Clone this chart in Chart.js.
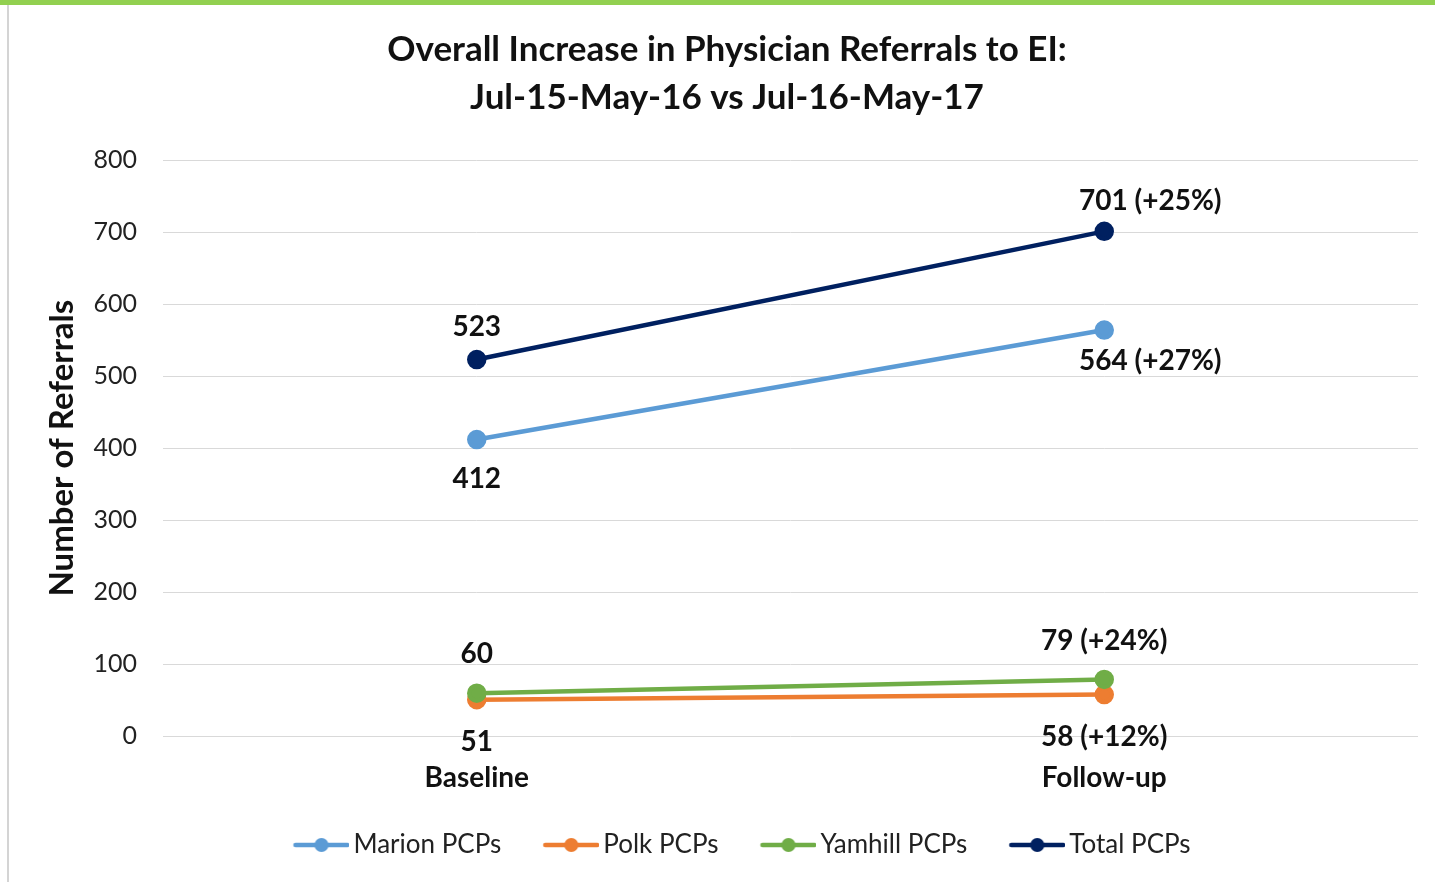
<!DOCTYPE html>
<html lang="en">
<head>
    <meta charset="UTF-8">
    <title>Physician Referrals to EI</title>
    <style>
        html, body {
            margin: 0;
            padding: 0;
            background: #ffffff;
        }
        .frame {
            position: absolute;
            left: 0;
            top: 0;
            width: 1435px;
            height: 882px;
            border-top: 5px solid #92d050;
            box-sizing: border-box;
        }
        .left-line {
            position: absolute;
            left: 7px;
            top: 5px;
            width: 2px;
            height: 877px;
            background: #d4d4d4;
        }
        .chart-container {
            position: absolute;
            left: 20px;
            top: 5px;
            width: 1415px;
            height: 877px;
        }
    </style>
    <script src="https://cdn.jsdelivr.net/npm/chart.js"></script>
</head>
<body>
    <div class="frame"></div>
    <div class="left-line"></div>
    <div class="chart-container">
        <canvas id="referralChart"></canvas>
    </div>

    <script>
        // data
        const periods = ['Baseline', 'Follow-up'];
        const marionValues = [412, 564];
        const polkValues = [51, 58];
        const yamhillValues = [60, 79];
        const totalValues = [523, 701];

        const marionLabels = ['412', '564 (+27%)'];
        const polkLabels = ['51', '58 (+12%)'];
        const yamhillLabels = ['60', '79 (+24%)'];
        const totalLabels = ['523', '701 (+25%)'];

        const fontFamily = 'Lato, "Open Sans", sans-serif';

        // legend box is 77 wide, picture is 95 wide and centred on it,
        // so the line + dot sits at the right end, close to the text
        const legendBoxWidth = 77;
        function legendSymbol(color) {
            const c = document.createElement('canvas');
            c.width = 95;
            c.height = 16;
            const ctx = c.getContext('2d');
            const x0 = 95 - 56;
            ctx.strokeStyle = color;
            ctx.lineWidth = 4.5;
            ctx.lineCap = 'round';
            ctx.beginPath();
            ctx.moveTo(x0 + 2, 8);
            ctx.lineTo(x0 + 54, 8);
            ctx.stroke();
            ctx.fillStyle = color;
            ctx.beginPath();
            ctx.arc(x0 + 28, 8, 7, 0, Math.PI * 2);
            ctx.fill();
            return c;
        }

        // draws the value labels next to each point
        const valueLabels = {
            id: 'valueLabels',
            afterDatasetsDraw(chart) {
                const ctx = chart.ctx;
                ctx.save();
                ctx.font = 'bold 28px ' + fontFamily;
                ctx.fillStyle = '#111111';
                ctx.textBaseline = 'middle';
                ctx.textAlign = 'center';
                chart.data.datasets.forEach((ds, i) => {
                    const meta = chart.getDatasetMeta(i);
                    meta.data.forEach((pt, j) => {
                        const gap = ds.labelGap[j];
                        const dy = ds.labelPos === 'above' ? -gap : gap;
                        const dx = j === 1 ? ds.labelShift : 0;
                        ctx.fillText(ds.valueLabels[j], pt.x + dx, pt.y + dy);
                    });
                });
                ctx.restore();
            }
        };

        function makeSet(label, data, labels, color, pos, gap, shift, order) {
            return {
                label: label,
                data: data,
                valueLabels: labels,
                labelPos: pos,
                labelGap: gap,
                labelShift: shift,
                borderColor: color,
                backgroundColor: color,
                pointBackgroundColor: color,
                pointBorderColor: color,
                borderWidth: 4.5,
                pointRadius: 7.5,
                pointHoverRadius: 7.5,
                fill: false,
                order: order,
                legendImage: legendSymbol(color)
            };
        }

        const referralChart = new Chart(document.getElementById('referralChart'), {
            type: 'line',
            data: {
                labels: periods,
                datasets: [
                    makeSet('Marion PCPs', marionValues, marionLabels, '#5b9bd5', 'below', [39, 31], 46, 2),
                    makeSet('Polk PCPs', polkValues, polkLabels, '#ed7d31', 'below', [42, 42], 0, 3),
                    makeSet('Yamhill PCPs', yamhillValues, yamhillLabels, '#70ad47', 'above', [39, 39], 0, 1),
                    makeSet('Total PCPs', totalValues, totalLabels, '#002060', 'above', [33, 30], 46, 0)
                ]
            },
            options: {
                responsive: true,
                maintainAspectRatio: false,
                animation: false,
                layout: {
                    padding: { left: 16, right: 17, top: 0, bottom: 14 }
                },
                plugins: {
                    title: {
                        display: true,
                        text: ['Overall Increase in Physician Referrals to EI:', 'Jul-15-May-16 vs Jul-16-May-17'],
                        color: '#111111',
                        font: { family: fontFamily, size: 35, weight: 'bold', lineHeight: '48px' },
                        padding: { top: 21, bottom: 38 }
                    },
                    legend: {
                        position: 'bottom',
                        labels: {
                            color: '#222222',
                            font: { family: fontFamily, size: 26 },
                            usePointStyle: true,
                            pointStyleWidth: legendBoxWidth,
                            padding: 12,
                            sort: (a, b) => a.datasetIndex - b.datasetIndex,
                            generateLabels(chart) {
                                const items = Chart.defaults.plugins.legend.labels.generateLabels(chart);
                                items.forEach(item => {
                                    item.pointStyle = chart.data.datasets[item.datasetIndex].legendImage;
                                });
                                return items;
                            }
                        }
                    },
                    tooltip: { enabled: false }
                },
                scales: {
                    x: {
                        offset: true,
                        grid: { display: false, drawTicks: false },
                        border: { display: false },
                        ticks: {
                            color: '#111111',
                            font: { family: fontFamily, size: 28, weight: 'bold' },
                            padding: 25
                        }
                    },
                    y: {
                        min: 0,
                        max: 800,
                        grid: { color: '#d9d9d9', lineWidth: 1, drawTicks: false },
                        border: { display: false },
                        ticks: {
                            stepSize: 100,
                            color: '#222222',
                            font: { family: fontFamily, size: 25 },
                            padding: 26
                        },
                        title: {
                            display: true,
                            text: 'Number of Referrals',
                            color: '#111111',
                            font: { family: fontFamily, size: 33, weight: 'bold' },
                            padding: { top: 7, bottom: 11 }
                        },
                        // plot starts at x=163 on the page, like the original
                        afterFit(scale) {
                            scale.width = 127;
                        }
                    }
                }
            },
            plugins: [valueLabels]
        });
    </script>
</body>
</html>
